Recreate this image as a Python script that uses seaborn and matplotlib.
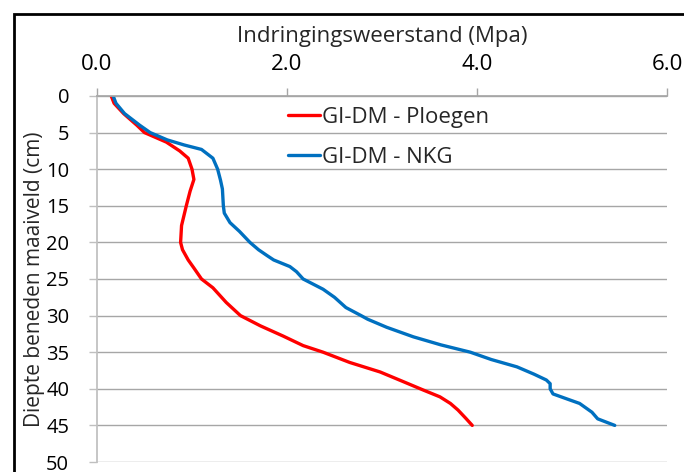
import pandas as pd
import matplotlib.pyplot as plt
import seaborn as sns
from matplotlib.patches import Rectangle

# depth (cm) and penetration resistance (MPa)
diepte_ploegen = [0, 1, 2.4, 4, 5, 6.3, 7.5, 8.5, 10, 11.4, 13, 15, 17.7, 20, 21, 22.4,
                  23.5, 25, 26.2, 28.2, 30, 31.4, 32.8, 34.1, 35, 36.4, 37.7, 39, 40.2,
                  41.1, 42, 42.9, 44, 45]
weerstand_ploegen = [0.15, 0.18, 0.28, 0.42, 0.50, 0.73, 0.87, 0.96, 1.00, 1.02, 0.98, 0.94,
                     0.89, 0.88, 0.90, 0.96, 1.02, 1.10, 1.22, 1.36, 1.51, 1.72, 1.96, 2.17,
                     2.38, 2.66, 2.98, 3.22, 3.44, 3.61, 3.72, 3.80, 3.88, 3.95]

diepte_nkg = [0, 1, 2.4, 4, 5, 6, 6.7, 7.3, 8.5, 10, 11.5, 12.7, 15, 16, 17.3, 18.5, 20, 21,
              21.8, 22.4, 23.3, 24, 25, 26.4, 27.5, 28.9, 30, 30.5, 31.6, 32.9, 34, 35, 36,
              37, 38, 38.8, 39.3, 40, 40.7, 41.4, 42, 43.2, 44.1, 45]
weerstand_nkg = [0.17, 0.20, 0.29, 0.45, 0.56, 0.74, 0.92, 1.10, 1.22, 1.27, 1.30, 1.32, 1.33,
                 1.34, 1.40, 1.50, 1.61, 1.70, 1.79, 1.86, 2.03, 2.10, 2.17, 2.38, 2.50,
                 2.62, 2.78, 2.85, 3.05, 3.33, 3.62, 3.93, 4.15, 4.42, 4.60, 4.73, 4.77,
                 4.77, 4.80, 4.95, 5.08, 5.21, 5.27, 5.45]

labels = ["GI-DM - Ploegen", "GI-DM - NKG"]
x_ticks = [0, 2, 4, 6]
y_ticks = list(range(0, 55, 5))

df = pd.concat([
    pd.DataFrame({"diepte": diepte_ploegen, "weerstand": weerstand_ploegen, "behandeling": labels[0]}),
    pd.DataFrame({"diepte": diepte_nkg, "weerstand": weerstand_nkg, "behandeling": labels[1]}),
])

sns.set_theme(style="white")
plt.rcParams["font.family"] = ["Open Sans", "DejaVu Sans"]

fig = plt.figure(figsize=(6.84, 4.72), dpi=100)
ax = fig.add_axes([97 / 684, 1 - 462 / 472, 570 / 684, 366 / 472])

sns.lineplot(data=df, x="weerstand", y="diepte", hue="behandeling", sort=False,
             estimator=None, palette=["#ff0000", "#0070c0"], linewidth=2.4, ax=ax)

ax.set_xlim(0, 6)
ax.set_ylim(50, 0)
ax.xaxis.tick_top()
ax.xaxis.set_label_position("top")
ax.set_xticks(x_ticks)
ax.set_xticklabels([f"{v:.1f}" for v in x_ticks], fontsize=16)
ax.set_yticks(y_ticks)
ax.set_yticklabels([str(v) for v in y_ticks], fontsize=14.5)
ax.set_xlabel("Indringingsweerstand (Mpa)", fontsize=16, labelpad=9)
ax.set_ylabel("Diepte beneden maaiveld (cm)", fontsize=15, labelpad=1)

ax.grid(axis="y", color="#a6a6a6", linewidth=1)
ax.grid(axis="x", visible=False)
for side in ["right", "bottom"]:
    ax.spines[side].set_visible(False)
ax.spines["left"].set_color("#bfbfbf")
ax.spines["top"].set_color("#a6a6a6")
ax.tick_params(axis="both", length=6, width=1, pad=4, colors="black")
ax.tick_params(axis="x", direction="out", top=True, bottom=False, color="#a6a6a6", pad=9)
ax.tick_params(axis="y", direction="out", left=True, color="#bfbfbf", pad=14)

leg = ax.legend(loc="upper left", bbox_to_anchor=(0.3, 1.025), frameon=False,
                fontsize=16, handlelength=1.45, handletextpad=0.1, labelspacing=0.85)
for line in leg.get_lines():
    line.set_linewidth(2.4)

# outer chart frame (cropped on the right and bottom)
fig.patches.append(Rectangle((14 / 684, -0.1), 1.0, 1 - 14 / 472 + 0.1,
                             transform=fig.transFigure, fill=False,
                             edgecolor="black", linewidth=2))

fig.savefig("out.png", dpi=100)
